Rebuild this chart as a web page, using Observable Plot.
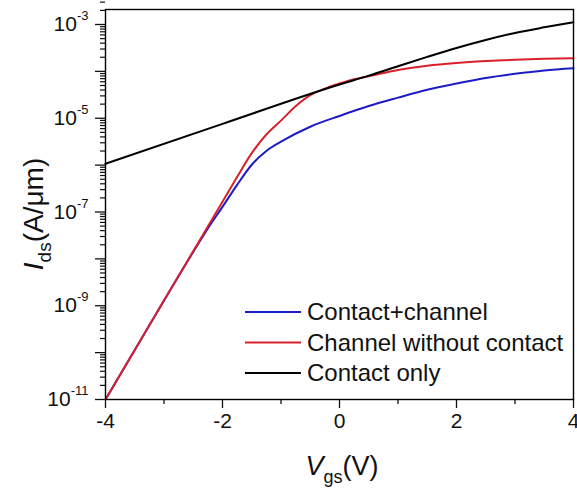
<!DOCTYPE html>
<html>
<head>
<meta charset="utf-8">
<script src="https://cdn.jsdelivr.net/npm/d3@7"></script>
<script src="https://cdn.jsdelivr.net/npm/@observablehq/plot@0.6"></script>
<style>
  html, body { margin: 0; padding: 0; background: #fff; }
  #chart { width: 577px; height: 491px; }
</style>
</head>
<body>
<div id="chart"></div>
<script>
// ---- data: Vgs (V) and Ids (A/um) ----
const blueV = [-4, -3, -2.5, -2.25, -2, -1.75, -1.5, -1.25, -1, -0.5, 0, 0.5, 1, 1.5, 2, 2.5, 3, 3.5, 4];
const blueI = [1e-11, 1.29e-9, 1.41e-8, 4.47e-8, 1.29e-7, 3.8e-7, 1.02e-6, 2.0e-6, 3.16e-6, 6.6e-6, 1.12e-5, 1.82e-5, 2.75e-5, 4.07e-5, 5.5e-5, 7.24e-5, 8.9e-5, 1.05e-4, 1.17e-4];

const redV = [-4, -3, -2.25, -2, -1.75, -1.5, -1.25, -1, -0.75, -0.5, -0.25, 0, 0.25, 0.5, 1, 1.5, 2, 2.5, 3, 3.5, 4];
const redI = [1e-11, 1.29e-9, 4.9e-8, 1.66e-7, 5.6e-7, 1.8e-6, 4.5e-6, 8.9e-6, 1.8e-5, 3.1e-5, 4.3e-5, 5.5e-5, 6.8e-5, 7.9e-5, 1.07e-4, 1.32e-4, 1.51e-4, 1.66e-4, 1.78e-4, 1.86e-4, 1.91e-4];

const blackV = [-4, -2, 0, 0.5, 1, 1.5, 2, 2.5, 3, 3.5, 4];
const blackI = [1.07e-6, 7.6e-6, 5.25e-5, 8.1e-5, 1.29e-4, 2.04e-4, 3.16e-4, 4.68e-4, 6.6e-4, 8.7e-4, 1.12e-3];

const seriesNames = ["Contact+channel", "Channel without contact", "Contact only"];
const seriesColors = ["#1c1cc4", "#d8202a", "#000000"];

const xMajorTicks = [-4, -2, 0, 2, 4];
const xMinorTicks = [-3, -1, 1, 3];
const yLabelTicks = [1e-3, 1e-5, 1e-7, 1e-9, 1e-11];
const yDecadeTicks = [1e-3, 1e-4, 1e-5, 1e-6, 1e-7, 1e-8, 1e-9, 1e-10, 1e-11];
const yMinorTicks = d3.range(-11, -2).flatMap(k => d3.range(2, 10).map(m => m * Math.pow(10, k)));

const rows = (V, I) => V.map((v, j) => ({ v, ids: I[j] }));

const FONT = "'Liberation Sans', Arial, Helvetica, sans-serif";

const chart = Plot.plot({
  width: 577,
  height: 491,
  marginLeft: 105,
  marginRight: 4,
  marginTop: 9,
  marginBottom: 92,
  style: { fontFamily: FONT, fontSize: "21px", color: "#111", background: "#fff", overflow: "visible" },
  x: { domain: [-4, 4] },
  y: { type: "log", domain: [1e-11, 2.09e-3] },
  marks: [
    Plot.axisX({ ticks: xMinorTicks, tickSize: 5, text: null, label: null, strokeWidth: 1.3 }),
    Plot.axisX({ ticks: xMajorTicks, tickSize: 9, tickPadding: 5, label: null, strokeWidth: 1.3,
                 tickFormat: d => String(d), fontSize: 21 }),
    Plot.axisY({ ticks: yMinorTicks, tickSize: 5, text: null, label: null, strokeWidth: 1.2 }),
    Plot.axisY({ ticks: yDecadeTicks, tickSize: 10, text: null, label: null, strokeWidth: 1.3 }),
    Plot.axisY({ ticks: yLabelTicks, tickSize: 0, tickPadding: 17, label: null,
                 tickFormat: d => "10^" + Math.round(Math.log10(d)), fontSize: 21 }),
    Plot.line(rows(blueV, blueI), { x: "v", y: "ids", stroke: seriesColors[0], strokeWidth: 2, curve: "monotone-x" }),
    Plot.line(rows(redV, redI), { x: "v", y: "ids", stroke: seriesColors[1], strokeWidth: 2, curve: "monotone-x" }),
    Plot.line(rows(blackV, blackI), { x: "v", y: "ids", stroke: seriesColors[2], strokeWidth: 2, curve: "monotone-x" }),
    Plot.frame({ stroke: "#000", strokeWidth: 1.4 })
  ]
});

document.getElementById("chart").appendChild(chart);

const svg = d3.select(chart);

// superscript exponents on y tick labels
svg.selectAll('g[aria-label="y-axis tick label"] text').each(function () {
  const t = d3.select(this);
  const m = /^10\^(-?\d+)$/.exec(t.text().replace("\u2212", "-"));
  if (!m) return;
  t.text("");
  t.append("tspan").text("10");
  t.append("tspan").attr("font-size", 13).attr("dy", -11).text("-" + m[1].replace("-", ""));
});

// axis titles
const xt = svg.append("text")
  .attr("x", 342).attr("y", 475)
  .attr("text-anchor", "middle")
  .attr("font-family", FONT).attr("font-size", 27).attr("fill", "#111");
xt.append("tspan").attr("font-style", "italic").text("V");
xt.append("tspan").attr("font-size", 18).attr("dy", 8).text("gs");
xt.append("tspan").attr("dy", -8).text("(V)");

const yt = svg.append("text")
  .attr("transform", "translate(43,214) rotate(-90)")
  .attr("text-anchor", "middle")
  .attr("font-family", FONT).attr("font-size", 28).attr("fill", "#111");
yt.append("tspan").attr("font-style", "italic").text("I");
yt.append("tspan").attr("font-size", 19).attr("dy", 8).text("ds");
yt.append("tspan").attr("dy", -8).text("(A/\u03BCm)");

// legend
const legend = svg.append("g").attr("font-family", FONT).attr("font-size", 24).attr("fill", "#111");
seriesNames.forEach((name, k) => {
  const y = 312 + k * 30.5;
  legend.append("line").attr("x1", 245).attr("x2", 301).attr("y1", y).attr("y2", y)
    .attr("stroke", seriesColors[k]).attr("stroke-width", 2);
  legend.append("text").attr("x", 307).attr("y", y).attr("dy", "0.35em")
    .attr("text-anchor", "start").text(name);
});
</script>
</body>
</html>
